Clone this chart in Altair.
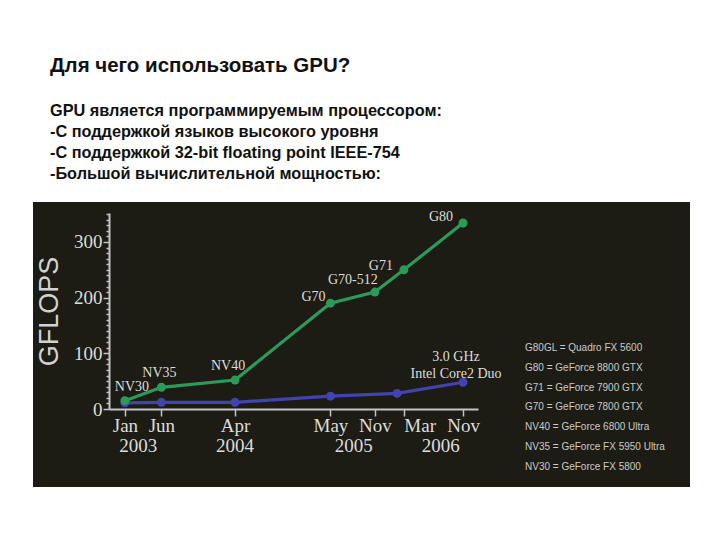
import altair as alt
import pandas as pd

# ---------------- data ----------------
gpu_dates = ["2003-01-01", "2003-06-01", "2004-04-01", "2005-05-01",
             "2005-11-01", "2006-03-01", "2006-11-01"]
gpu_names = ["NV30", "NV35", "NV40", "G70", "G70-512", "G71", "G80"]
gpu_gflops = [15, 39, 52, 190, 210, 250, 334]

cpu_dates = ["2003-01-01", "2003-06-01", "2004-04-01", "2005-05-01",
             "2006-02-01", "2006-11-01"]
cpu_gflops = [11, 12, 12, 23, 28, 48]
cpu_label = ["3.0 GHz", "Intel Core2 Duo"]

tick_months = [(2003, 1), (2003, 6), (2004, 4), (2005, 5), (2005, 11),
               (2006, 3), (2006, 11)]
year_labels = ["2003", "2004", "2005", "2006"]
year_dates = ["2003-02-25", "2004-04-01", "2005-08-05", "2006-08-01"]

y_major = [0, 100, 200, 300]
y_minor_step = 10
y_max = 352

legend_lines = [
    "G80GL = Quadro FX 5600",
    "G80 = GeForce 8800 GTX",
    "G71 = GeForce 7900 GTX",
    "G70 = GeForce 7800 GTX",
    "NV40 = GeForce 6800 Ultra",
    "NV35 = GeForce FX 5950 Ultra",
    "NV30 = GeForce FX 5800",
]

slide_title = "Для чего использовать GPU?"
slide_body = [
    "GPU является программируемым процессором:",
    "-С поддержкой языков высокого уровня",
    "-С поддержкой 32-bit floating point IEEE-754",
    "-Большой вычислительной мощностью:",
]

# ---------------- layout helpers ----------------
X0, Y0 = 109, 213          # page pixel of plot origin
W, H = 369, 196


def px(x):
    return x - X0


def py(y):
    return y - Y0


SERIF = "Liberation Serif"
SANS = "Liberation Sans"
GREEN = "#2b9a5a"
BLUE = "#4242b0"
LIGHT = "#dcdcdc"
AXIS_C = "#c4c4c4"

gpu_df = pd.DataFrame({"date": gpu_dates, "name": gpu_names, "gflops": gpu_gflops})
cpu_df = pd.DataFrame({"date": cpu_dates, "gflops": cpu_gflops})
one = pd.DataFrame({"a": [0]})

xscale = alt.Scale(type="utc",
                   domain=[alt.DateTime(year=2002, month=10, date=27, utc=True),
                           alt.DateTime(year=2007, month=1, date=2, utc=True)])
yscale = alt.Scale(domain=[0, y_max], nice=False, zero=True)

xaxis = alt.Axis(
    values=[alt.DateTime(year=y, month=m, date=1, utc=True) for y, m in tick_months],
    labelExpr="utcFormat(datum.value, '%b')",
    labelAlign={"condition": {"test": "utcmonth(datum.value) == 2", "value": "left"},
                "value": "center"},
    title=None, grid=False, zindex=1,
    domainColor=AXIS_C, domainWidth=2, tickColor=AXIS_C, tickWidth=1.5, tickSize=7,
    labelFont=SERIF, labelFontSize=19, labelColor=LIGHT, labelPadding=0,
    labelFlush=False, labelOverlap=False, labelBound=False,
)
yaxis = alt.Axis(
    values=list(range(0, y_max, y_minor_step)),
    labelExpr="datum.value % 100 == 0 ? datum.label : ''",
    tickSize={"condition": {"test": "datum.value % 100 == 0", "value": 6}, "value": 3},
    title="GFLOPS", titleFont=SANS, titleFontSize=27, titleFontWeight="normal",
    titleColor="#d2d2d2", titlePadding=10,
    grid=False, zindex=1,
    domainColor=AXIS_C, domainWidth=2, tickColor=AXIS_C, tickWidth=1.5,
    labelFont=SERIF, labelFontSize=19, labelColor=LIGHT, labelPadding=1,
    labelOverlap=False, labelFlush=False, labelBound=False,
)

X = alt.X("date:T", scale=xscale, axis=xaxis)
Y = alt.Y("gflops:Q", scale=yscale, axis=yaxis)

bg = alt.Chart(one).mark_rect(color="#1c1c14").encode(
    x=alt.value(px(33)), x2=alt.value(px(690)),
    y=alt.value(py(202)), y2=alt.value(py(487)))

gpu_line = alt.Chart(gpu_df).mark_line(color=GREEN, strokeWidth=3.2).encode(x=X, y=Y)
gpu_pts = alt.Chart(gpu_df).mark_circle(color=GREEN, size=80, opacity=1).encode(x=X, y=Y)
cpu_line = alt.Chart(cpu_df).mark_line(color=BLUE, strokeWidth=3.2).encode(x=X, y=Y)
cpu_pts = alt.Chart(cpu_df).mark_circle(color=BLUE, size=80, opacity=1).encode(x=X, y=Y)

# label offsets (dx, dy) from each point
label_off = {
    "NV30": (7, -14), "NV35": (-2, -14), "NV40": (-7, -14), "G70": (-17, -6),
    "G70-512": (-22, -12), "G71": (-23, -4), "G80": (-22, -6),
}
layers = [bg, cpu_line, gpu_line, cpu_pts, gpu_pts]
for name, (dx, dy) in label_off.items():
    layers.append(
        alt.Chart(gpu_df).transform_filter(alt.datum.name == name)
        .mark_text(font=SERIF, fontSize=14, color=LIGHT, dx=dx, dy=dy)
        .encode(x=X, y=Y, text="name:N"))

cpu_end = cpu_df.tail(1)
for txt, dy in zip(cpu_label, [-25, -8]):
    layers.append(
        alt.Chart(cpu_end).mark_text(font=SERIF, fontSize=14, color=LIGHT, dx=-7, dy=dy, text=txt)
        .encode(x=X, y=Y))

years_df = pd.DataFrame({"date": year_dates, "year": year_labels})
layers.append(
    alt.Chart(years_df).mark_text(font=SERIF, fontSize=19, color=LIGHT, baseline="middle")
    .encode(x=X, y=alt.value(py(446)), text="year:N"))

for i, line in enumerate(legend_lines):
    layers.append(
        alt.Chart(one).mark_text(font=SANS, fontSize=10, color="#cacaca",
                                 align="left", baseline="middle", text=line)
        .encode(x=alt.value(px(525)), y=alt.value(py(348 + i * 19.8))))

layers.append(
    alt.Chart(one).mark_text(font=SANS, fontSize=20.5, fontWeight="bold", color="#111111",
                             align="left", baseline="alphabetic", text=slide_title)
    .encode(x=alt.value(px(50)), y=alt.value(py(72))))
for i, line in enumerate(slide_body):
    layers.append(
        alt.Chart(one).mark_text(font=SANS, fontSize=16.3, fontWeight="bold", color="#111111",
                                 align="left", baseline="alphabetic", text=line)
        .encode(x=alt.value(px(50)), y=alt.value(py(116 + i * 21))))

chart = alt.layer(*layers).properties(
    width=W, height=H,
    autosize=alt.AutoSizeParams(type="none"),
    padding={"left": X0 - 8, "top": Y0 - 8, "right": 704 - (X0 - 8) - W, "bottom": 524 - (Y0 - 8) - H},
    background="white",
).configure_view(stroke=None, fill=None)

chart.save("out.html", embed_options={"renderer": "svg", "actions": False})
